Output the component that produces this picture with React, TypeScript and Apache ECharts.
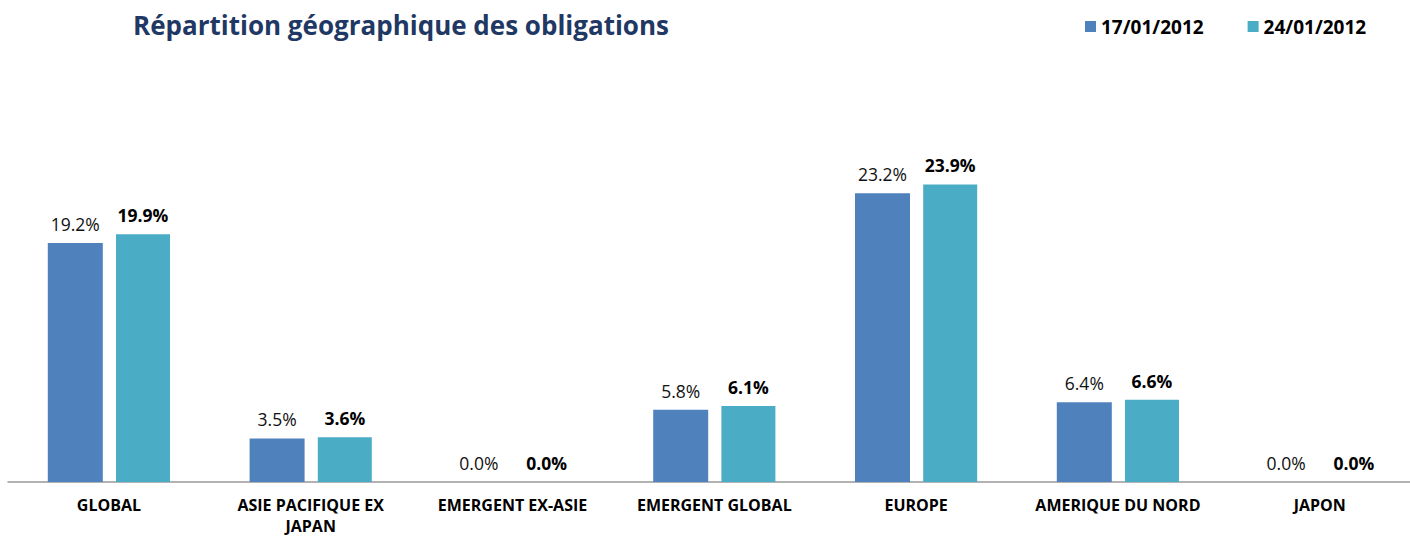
import React, { useEffect, useRef } from "react";
import * as echarts from "echarts";

const categories = [
  "GLOBAL",
  "ASIE PACIFIQUE EX\nJAPAN",
  "EMERGENT EX-ASIE",
  "EMERGENT GLOBAL",
  "EUROPE",
  "AMERIQUE DU NORD",
  "JAPON",
];
const seriesNames = ["17/01/2012", "24/01/2012"];
const values1 = [19.2, 3.5, 0.0, 5.8, 23.2, 6.4, 0.0];
const values2 = [19.9, 3.6, 0.0, 6.1, 23.9, 6.6, 0.0];

const FONT = "'Open Sans', 'Noto Sans', sans-serif";

export default function App() {
  const ref = useRef<HTMLDivElement>(null);
  useEffect(() => {
    if (!ref.current) return;
    const chart = echarts.init(ref.current, undefined, { renderer: "svg" });
    chart.setOption({
      animation: false,
      textStyle: { fontFamily: FONT },
      title: {
        text: "Répartition géographique des obligations",
        left: 128,
        top: 7,
        textStyle: { fontFamily: FONT, fontSize: 26, fontWeight: "bold", color: "#1F3864" },
      },
      legend: {
        left: 1080,
        top: 12,
        icon: "rect",
        itemWidth: 11,
        itemHeight: 11,
        itemGap: 44,
        data: seriesNames,
        textStyle: { fontFamily: FONT, fontSize: 19, fontWeight: "bold", color: "#000" },
      },
      grid: {
        left: 8,
        top: 108.5,
        width: 1412.6,
        height: 373.5,
        containLabel: false,
        outerBoundsMode: "none",
      },
      xAxis: {
        type: "category",
        data: categories,
        axisLine: { lineStyle: { color: "#999", width: 1.5 } },
        axisTick: { show: false },
        axisLabel: {
          interval: 0,
          margin: 12,
          fontFamily: FONT,
          fontSize: 16,
          fontWeight: "bold",
          color: "#000",
          lineHeight: 21,
          verticalAlign: "top",
        },
      },
      yAxis: { type: "value", min: 0, max: 30, show: false, splitLine: { show: false } },
      series: [
        {
          name: seriesNames[0],
          type: "bar",
          data: values1,
          barWidth: 55,
          barGap: "24%",
          itemStyle: { color: "#4F81BD" },
          label: {
            show: true,
            position: "top",
            distance: 10,
            formatter: (p: any) => p.value.toFixed(1) + "%",
            fontFamily: FONT,
            fontSize: 17.5,
            color: "#111",
          },
        },
        {
          name: seriesNames[1],
          type: "bar",
          data: values2,
          barWidth: 54,
          itemStyle: { color: "#4BACC6" },
          label: {
            show: true,
            position: "top",
            distance: 10,
            formatter: (p: any) => p.value.toFixed(1) + "%",
            fontFamily: FONT,
            fontSize: 17.5,
            fontWeight: "bold",
            color: "#000",
          },
        },
      ],
    });
    return () => chart.dispose();
  }, []);
  return (
    <div style={{ position: "fixed", left: 0, top: 0, right: 0, bottom: 0, overflow: "hidden", background: "#fff" }}>
      <div ref={ref} style={{ width: 1422, height: 537 }} />
    </div>
  );
}
